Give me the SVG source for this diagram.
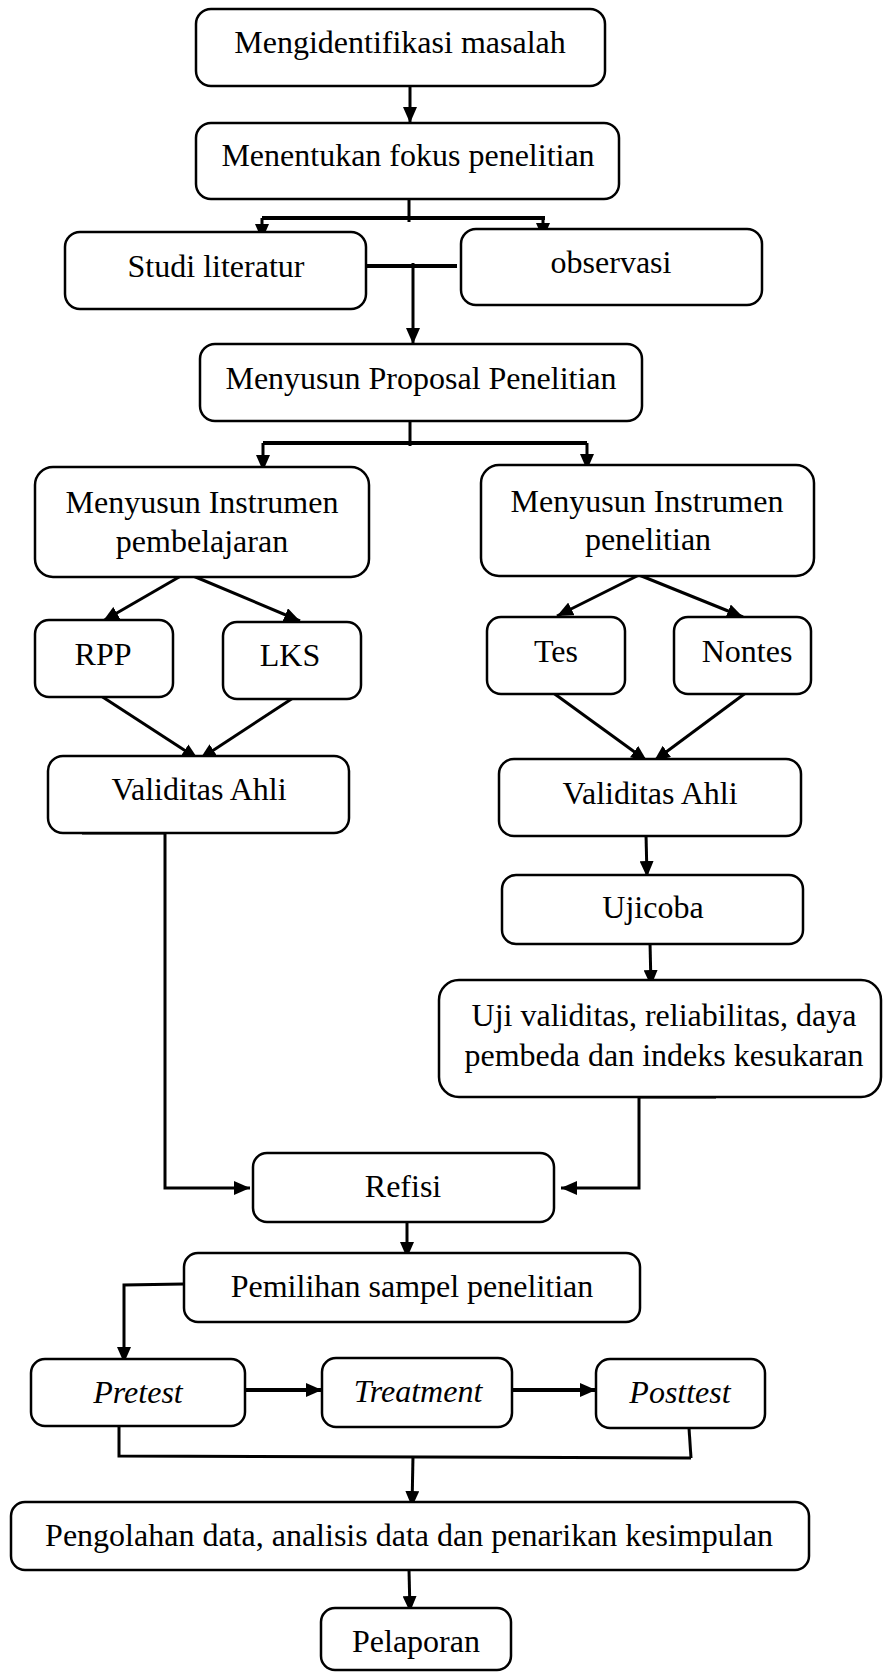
<svg xmlns="http://www.w3.org/2000/svg" width="883" height="1672" viewBox="0 0 883 1672">
  <style>
    .box { fill: #ffffff; stroke: #000000; stroke-width: 2.5; }
    .lbl { font-family: "Liberation Serif", "Times New Roman", serif; font-size: 32px; fill: #000000; text-anchor: middle; }
    .it { font-style: italic; }
    .wire { fill: none; stroke: #000000; stroke-width: 3; }
    .bar { fill: none; stroke: #000000; stroke-width: 4; }
    .arr { marker-end: url(#head); }
  </style>
  <defs>
    <marker id="head" markerUnits="userSpaceOnUse" markerWidth="16" markerHeight="14" refX="16" refY="7" orient="auto">
      <path d="M0,0 L16,7 L0,14 z" fill="#000000"/>
    </marker>
  </defs>

  <rect width="883" height="1672" fill="#ffffff"/>

  <!-- connectors -->
  <g id="connectors">
    <path class="wire arr" d="M410,86 L410,123"/>

    <path class="wire" d="M409,193 L409,222"/>
    <path class="bar" d="M262,218 L545,218"/>
    <path class="wire arr" d="M262,218 L262,240"/>
    <path class="wire arr" d="M543,218 L543,239"/>

    <path class="bar" d="M367,266 L457,266"/>
    <path class="wire arr" d="M413,263 L413,344"/>

    <path class="wire" d="M410,419 L410,446"/>
    <path class="bar" d="M263,443 L587,443"/>
    <path class="wire arr" d="M263,443 L263,471"/>
    <path class="wire arr" d="M587,443 L587,470"/>

    <path class="wire arr" d="M186,573 L103,621"/>
    <path class="wire arr" d="M186,573 L300,621"/>
    <path class="wire arr" d="M639,575 L557,616"/>
    <path class="wire arr" d="M639,575 L743,617"/>

    <path class="wire arr" d="M98,694 L198,759"/>
    <path class="wire arr" d="M293,698 L200,759"/>
    <path class="wire arr" d="M552,692 L647,761"/>
    <path class="wire arr" d="M747,692 L654,761"/>

    <path class="wire" d="M82,833 L166,833"/>
    <path class="wire arr" d="M165,833 L165,1188 L250,1188"/>

    <path class="wire arr" d="M646,834 L647,877"/>
    <path class="wire arr" d="M650,942 L651,986"/>

    <path class="wire" d="M639,1097 L716,1097"/>
    <path class="wire arr" d="M639,1097 L639,1188 L561,1188"/>

    <path class="wire arr" d="M407,1222 L407,1258"/>

    <path class="wire arr" d="M184,1284 L124,1285 L124,1363"/>

    <path class="bar arr" d="M245,1390 L322,1390"/>
    <path class="bar arr" d="M512,1390 L596,1390"/>

    <path class="wire" d="M119,1426 L119,1456 L691,1458"/>
    <path class="wire" d="M689,1428 L691,1458"/>
    <path class="wire arr" d="M413,1456 L412,1507"/>

    <path class="wire arr" d="M409,1570 L410,1612"/>
  </g>

  <!-- nodes -->
  <g id="identifikasi">
    <rect class="box" x="196" y="9" width="409" height="77" rx="15"/>
    <text class="lbl" x="400" y="53">Mengidentifikasi masalah</text>
  </g>
  <g id="fokus">
    <rect class="box" x="196" y="123" width="423" height="76" rx="15"/>
    <text class="lbl" x="408" y="166">Menentukan fokus penelitian</text>
  </g>
  <g id="studi">
    <rect class="box" x="65" y="232" width="301" height="77" rx="15"/>
    <text class="lbl" x="216" y="277">Studi literatur</text>
  </g>
  <g id="observasi">
    <rect class="box" x="461" y="229" width="301" height="76" rx="15"/>
    <text class="lbl" x="611" y="273">observasi</text>
  </g>
  <g id="proposal">
    <rect class="box" x="200" y="344" width="442" height="77" rx="15"/>
    <text class="lbl" x="421" y="389">Menyusun Proposal Penelitian</text>
  </g>
  <g id="instrumen-pembelajaran">
    <rect class="box" x="35" y="467" width="334" height="110" rx="18"/>
    <text class="lbl" x="202" y="513">Menyusun Instrumen</text>
    <text class="lbl" x="202" y="552">pembelajaran</text>
  </g>
  <g id="instrumen-penelitian">
    <rect class="box" x="481" y="465" width="333" height="111" rx="18"/>
    <text class="lbl" x="647" y="512">Menyusun Instrumen</text>
    <text class="lbl" x="648" y="550">penelitian</text>
  </g>
  <g id="rpp">
    <rect class="box" x="35" y="620" width="138" height="77" rx="14"/>
    <text class="lbl" x="103" y="665">RPP</text>
  </g>
  <g id="lks">
    <rect class="box" x="223" y="622" width="138" height="77" rx="14"/>
    <text class="lbl" x="290" y="666">LKS</text>
  </g>
  <g id="tes">
    <rect class="box" x="487" y="617" width="138" height="77" rx="14"/>
    <text class="lbl" x="556" y="662">Tes</text>
  </g>
  <g id="nontes">
    <rect class="box" x="674" y="617" width="137" height="77" rx="14"/>
    <text class="lbl" x="747" y="662">Nontes</text>
  </g>
  <g id="validitas-kiri">
    <rect class="box" x="48" y="756" width="301" height="77" rx="15"/>
    <text class="lbl" x="199" y="800">Validitas Ahli</text>
  </g>
  <g id="validitas-kanan">
    <rect class="box" x="499" y="759" width="302" height="77" rx="15"/>
    <text class="lbl" x="650" y="804">Validitas Ahli</text>
  </g>
  <g id="ujicoba">
    <rect class="box" x="502" y="875" width="301" height="69" rx="14"/>
    <text class="lbl" x="653" y="918">Ujicoba</text>
  </g>
  <g id="uji-validitas">
    <rect class="box" x="439" y="980" width="442" height="117" rx="20"/>
    <text class="lbl" x="664" y="1026">Uji validitas, reliabilitas, daya</text>
    <text class="lbl" x="664" y="1066">pembeda dan indeks kesukaran</text>
  </g>
  <g id="refisi">
    <rect class="box" x="253" y="1153" width="301" height="69" rx="14"/>
    <text class="lbl" x="403" y="1197">Refisi</text>
  </g>
  <g id="pemilihan">
    <rect class="box" x="184" y="1253" width="456" height="69" rx="14"/>
    <text class="lbl" x="412" y="1297">Pemilihan sampel penelitian</text>
  </g>
  <g id="pretest">
    <rect class="box" x="31" y="1359" width="214" height="67" rx="14"/>
    <text class="lbl it" x="138" y="1403">Pretest</text>
  </g>
  <g id="treatment">
    <rect class="box" x="322" y="1358" width="190" height="69" rx="14"/>
    <text class="lbl it" x="418" y="1402">Treatment</text>
  </g>
  <g id="posttest">
    <rect class="box" x="596" y="1359" width="169" height="69" rx="14"/>
    <text class="lbl it" x="680" y="1403">Posttest</text>
  </g>
  <g id="pengolahan">
    <rect class="box" x="11" y="1502" width="798" height="68" rx="14"/>
    <text class="lbl" x="409" y="1546">Pengolahan data, analisis data dan penarikan kesimpulan</text>
  </g>
  <g id="pelaporan">
    <rect class="box" x="321" y="1608" width="190" height="62" rx="14"/>
    <text class="lbl" x="416" y="1652">Pelaporan</text>
  </g>
</svg>
